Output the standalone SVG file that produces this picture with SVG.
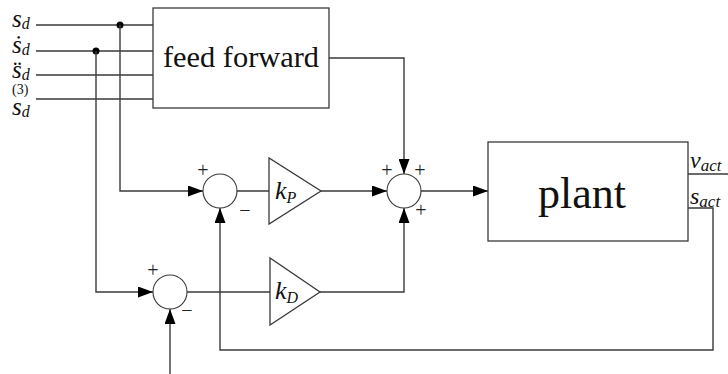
<svg xmlns="http://www.w3.org/2000/svg" width="728" height="374" viewBox="0 0 728 374" font-family="'Liberation Serif', 'Times New Roman', 'DejaVu Serif', serif">
<style>
.ln{fill:none;stroke:#3a3a3a;stroke-width:1.4}
.bx{fill:#fff;stroke:#3a3a3a;stroke-width:1.3}
.sum{fill:#fff;stroke:#3a3a3a;stroke-width:1.1}
text{font-family:'Liberation Serif','Times New Roman','DejaVu Serif',serif;fill:#111}
.it{font-style:italic}
.sg{font-size:20px;fill:#222;text-anchor:middle}
</style>
<defs>
<marker id="ar" markerUnits="userSpaceOnUse" markerWidth="15" markerHeight="11" viewBox="0 0 15 11" refX="15" refY="5.5" orient="auto">
<path d="M0,0 L15,5.5 L0,11 z" fill="#000"/>
</marker>
</defs>
<rect width="728" height="374" fill="#fff"/>

<g id="connectors">
<path class="ln" d="M36,25 H153"/>
<path class="ln" d="M36,51 H153"/>
<path class="ln" d="M36,75 H153"/>
<path class="ln" d="M36,99 H153"/>
<circle cx="120" cy="25" r="3.5" fill="#000"/>
<circle cx="96" cy="51" r="3.5" fill="#000"/>
<path class="ln" d="M120,25 V191 H203" marker-end="url(#ar)"/>
<path class="ln" d="M96,51 V292 H153" marker-end="url(#ar)"/>
<path class="ln" d="M329,58 H404 V174" marker-end="url(#ar)"/>
<path class="ln" d="M237,191 H270"/>
<path class="ln" d="M321,191 H387" marker-end="url(#ar)"/>
<path class="ln" d="M187,292 H270"/>
<path class="ln" d="M320,292 H404 V208" marker-end="url(#ar)"/>
<path class="ln" d="M421,191 H488" marker-end="url(#ar)"/>
<path class="ln" d="M170,374 V309" marker-end="url(#ar)"/>
<path class="ln" d="M688,208 H713 V350 H220 V208" marker-end="url(#ar)"/>
<path class="ln" d="M688,174 H728"/>
</g>

<g id="inputs">
<text class="it" x="12" y="27" font-size="25">s<tspan font-size="16" dy="2">d</tspan></text>
<text class="it" x="12" y="53" font-size="25">ṡ<tspan font-size="16" dy="2">d</tspan></text>
<text class="it" x="12" y="78" font-size="25">s̈<tspan font-size="16" dy="2">d</tspan></text>
<text x="12" y="94" font-size="14">(3)<tspan class="it" x="12" y="115" font-size="25">s</tspan><tspan class="it" font-size="16" dy="2">d</tspan></text>
</g>

<g id="feedforward">
<rect class="bx" x="153" y="8" width="176" height="100"/>
<text x="241" y="67" font-size="30" text-anchor="middle" textLength="156" lengthAdjust="spacingAndGlyphs">feed forward</text>
</g>

<g id="sum1">
<circle class="sum" cx="220" cy="191" r="17"/>
<text class="sg" x="203" y="177">+</text>
<text class="sg" x="245" y="217">−</text>
</g>

<g id="kP">
<path class="bx" d="M269,158 L269,224 L321,191 z"/>
<text class="it" x="275" y="199" font-size="26">k<tspan font-size="16" dy="4">P</tspan></text>
</g>

<g id="sum2">
<circle class="sum" cx="404" cy="191" r="17"/>
<text class="sg" x="387" y="177">+</text>
<text class="sg" x="420" y="177">+</text>
<text class="sg" x="421" y="217">+</text>
</g>

<g id="sum3">
<circle class="sum" cx="170" cy="292" r="17"/>
<text class="sg" x="153" y="277">+</text>
<text class="sg" x="187" y="317">−</text>
</g>

<g id="kD">
<path class="bx" d="M270,258 L270,325 L320,292 z"/>
<text class="it" x="275" y="299" font-size="26">k<tspan font-size="16" dy="4">D</tspan></text>
</g>

<g id="plant">
<rect class="bx" x="488" y="142" width="200" height="99"/>
<text x="582" y="208" font-size="44" text-anchor="middle">plant</text>
</g>

<g id="outputs">
<text class="it" x="690" y="168" font-size="24">v<tspan font-size="17" dy="3">act</tspan></text>
<text class="it" x="690" y="204" font-size="24">s<tspan font-size="17" dy="3">act</tspan></text>
</g>
</svg>
